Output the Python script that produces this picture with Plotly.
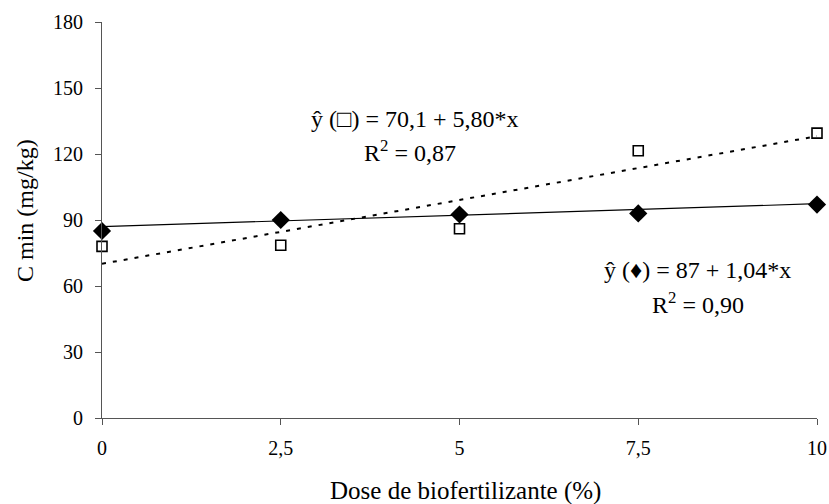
import plotly.graph_objects as go

dose = [0, 2.5, 5, 7.5, 10]
diamond_vals = [85.0, 90.0, 92.5, 93.0, 97.0]
square_vals = [78.0, 78.5, 86.0, 121.5, 129.5]
fit_diamond = (87.0, 1.04)
fit_square = (70.1, 5.80)
x_ticks = [0, 2.5, 5, 7.5, 10]
x_ticklabels = ["0", "2,5", "5", "7,5", "10"]
y_ticks = [0, 30, 60, 90, 120, 150, 180]

W, H = 829, 504
ml, mt = 102, 22
mr = W - 817
mb = H - 418

fig = go.Figure()
xs = [dose[0], dose[-1]]
fig.add_trace(go.Scatter(x=xs, y=[fit_square[0] + fit_square[1] * v for v in xs],
                         mode="lines", line=dict(color="black", width=2, dash="4px,7px"),
                         showlegend=False, hoverinfo="skip"))
fig.add_trace(go.Scatter(x=xs, y=[fit_diamond[0] + fit_diamond[1] * v for v in xs],
                         mode="lines", line=dict(color="black", width=1.2),
                         showlegend=False, hoverinfo="skip"))
fig.add_trace(go.Scatter(x=dose, y=square_vals, mode="markers",
                         marker=dict(symbol="square-open", size=10, color="black",
                                     line=dict(width=1.6, color="black")),
                         showlegend=False, cliponaxis=False))
fig.add_trace(go.Scatter(x=dose, y=diamond_vals, mode="markers",
                         marker=dict(symbol="diamond", size=14, color="black"),
                         showlegend=False, cliponaxis=False))

FAM = "Liberation Serif, Times New Roman, serif"
tick_font = dict(family=FAM, size=20, color="black")
ann_font = dict(family=FAM, size=24, color="black")
title_font = dict(family=FAM, size=25, color="black")


def px(xp, yp):
    return (xp - ml) / (W - ml - mr), 1 - (yp - mt) / (H - mt - mb)


anns = [
    ("ŷ (□) = 70,1 + 5,80*x", 415, 119),
    ("R<sup>2</sup> = 0,87", 410, 151),
    ("ŷ (♦) = 87 + 1,04*x", 697, 270),
    ("R<sup>2</sup> = 0,90", 698, 303),
]
for t, xp, yp in anns:
    ax, ay = px(xp, yp)
    fig.add_annotation(text=t, x=ax, y=ay, xref="paper", yref="paper",
                       showarrow=False, font=ann_font, xanchor="center", yanchor="middle")

ax, ay = px(465, 491)
fig.add_annotation(text="Dose de biofertilizante (%)", x=ax, y=ay, xref="paper", yref="paper",
                   showarrow=False, font=title_font, xanchor="center", yanchor="middle")
ax, ay = px(25, 211)
fig.add_annotation(text="C min (mg/kg)", x=ax, y=ay, xref="paper", yref="paper",
                   showarrow=False, font=ann_font, textangle=-90, xanchor="center", yanchor="middle")

fig.update_layout(
    width=W, height=H, margin=dict(l=ml, r=mr, t=mt, b=mb, autoexpand=False),
    paper_bgcolor="white", plot_bgcolor="white", font=tick_font,
    xaxis=dict(range=[0, 10], tickvals=x_ticks, ticktext=x_ticklabels, showgrid=False,
               zeroline=False, showline=True, linecolor="#555", linewidth=1.2,
               ticks="outside", ticklen=6, tickcolor="#555", tickwidth=1.2,
               ticklabelstandoff=6, tickfont=tick_font, automargin=False),
    yaxis=dict(range=[0, 180], tickvals=y_ticks, showgrid=False, zeroline=False,
               showline=True, linecolor="#555", linewidth=1.2,
               ticks="outside", ticklen=6, tickcolor="#555", tickwidth=1.2,
               ticklabelstandoff=8, tickfont=tick_font, automargin=False),
)
fig.write_html("out.html", config={"displayModeBar": False},
               post_script="document.body.style.margin='0px';document.body.style.overflow='hidden';")
